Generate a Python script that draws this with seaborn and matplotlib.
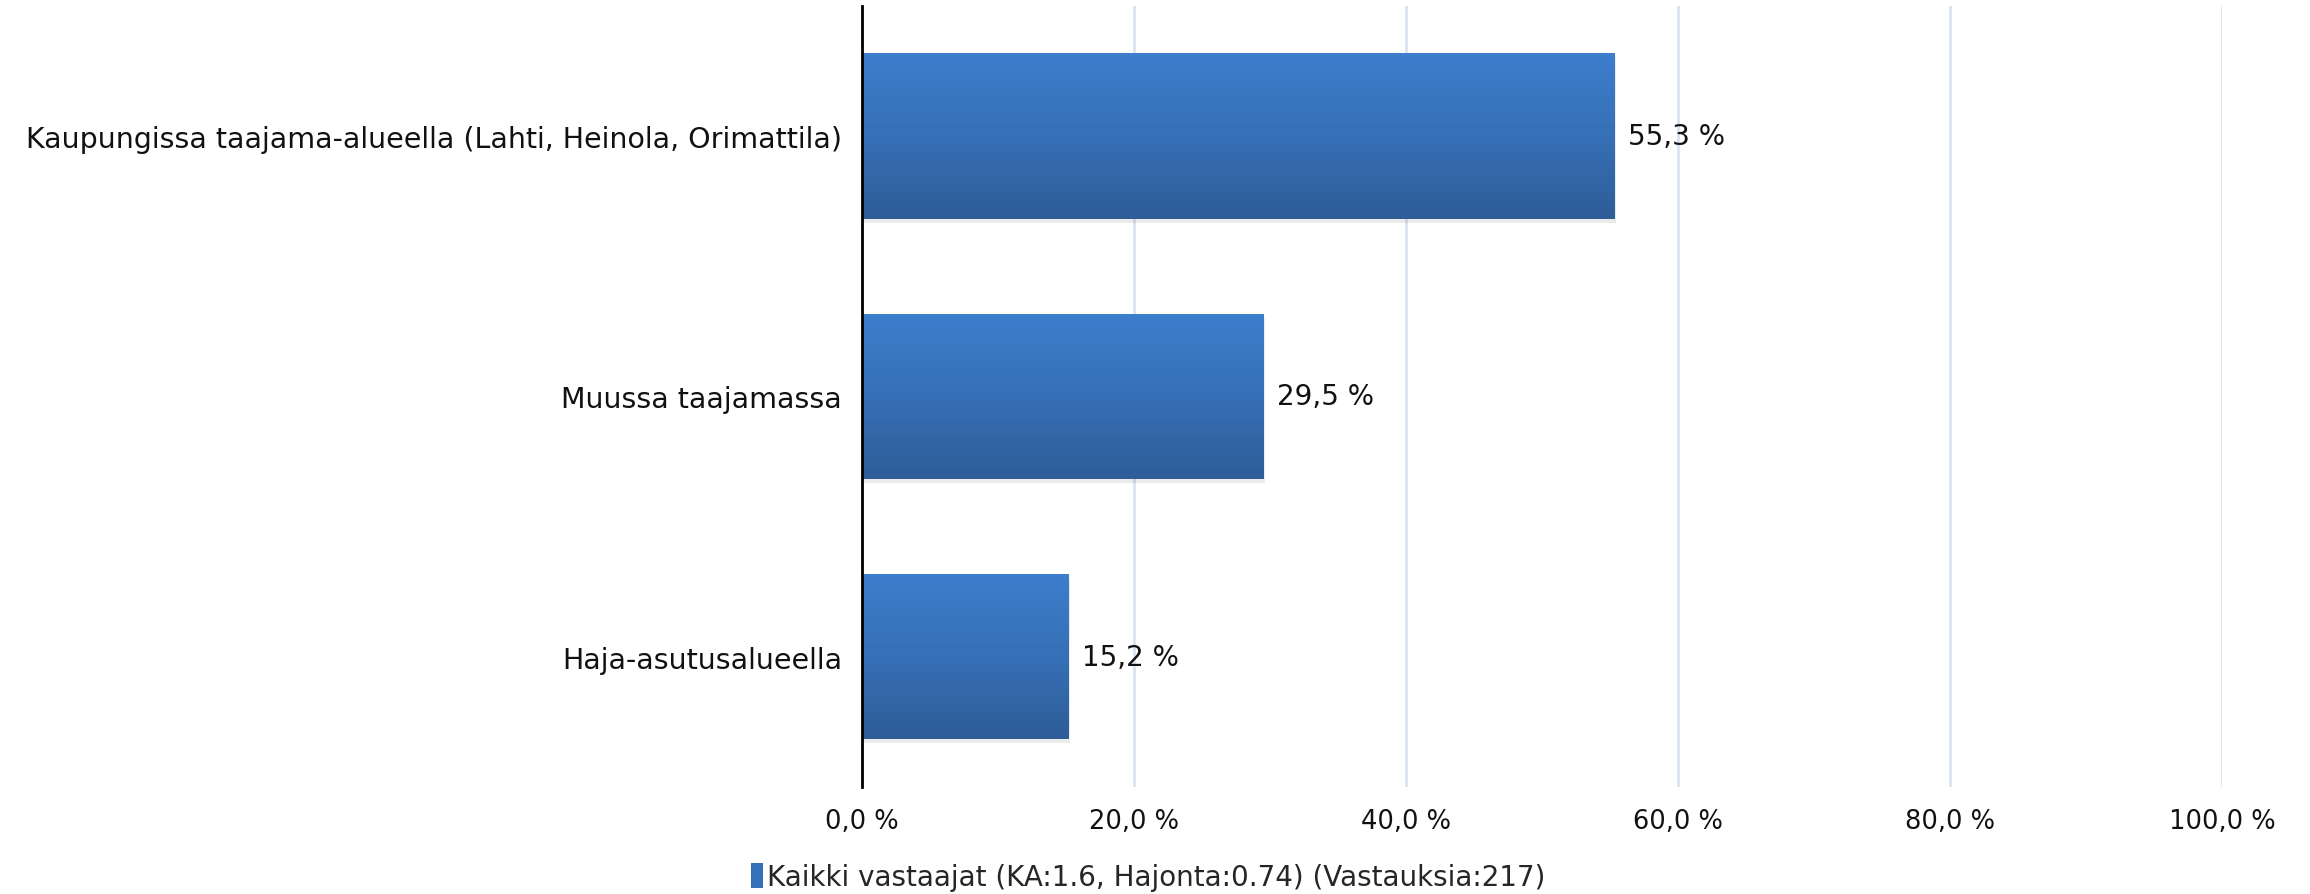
import matplotlib
matplotlib.use("Agg")
import matplotlib.pyplot as plt
import matplotlib.patches as mpatches
import numpy as np
import pandas as pd
import seaborn as sns
from matplotlib.colors import LinearSegmentedColormap

# data
categories = [
    "Kaupungissa taajama-alueella (Lahti, Heinola, Orimattila)",
    "Muussa taajamassa",
    "Haja-asutusalueella",
]
values = [55.3, 29.5, 15.2]
x_ticks = [0, 20, 40, 60, 80, 100]
series_name = "Kaikki vastaajat (KA:1.6, Hajonta:0.74) (Vastauksia:217)"

df = pd.DataFrame({"category": categories, "value": values})

sns.set_theme(style="white")
plt.rcParams["font.family"] = ["DejaVu Sans"]

fig = plt.figure(figsize=(23.1, 8.95), dpi=100)
ax = fig.add_axes([0.373, 0.1196, 0.589, 0.8726])

sns.barplot(data=df, x="value", y="category", orient="h", color="#3A75C0",
            width=0.635, ax=ax, zorder=3)

# gradient fill on the bars
cmap = LinearSegmentedColormap.from_list("bar", ["#3D7ECD", "#3670B6", "#2E5D98"])
grad = np.linspace(0, 1, 256).reshape(-1, 1)
for p in ax.patches:
    x0, y0 = p.get_x(), p.get_y()
    w, h = p.get_width(), p.get_height()
    # soft shadow
    sh = mpatches.Rectangle((x0 + 0.15, y0 + 0.015), w, h, facecolor="#000000",
                            alpha=0.08, edgecolor="none", zorder=2)
    ax.add_patch(sh)
    im = ax.imshow(grad, extent=[x0, x0 + w, y0 + h, y0], aspect="auto",
                   cmap=cmap, zorder=4, interpolation="bicubic")
    im.set_clip_path(p)
    p.set_edgecolor("none")

for p, v in zip(ax.patches, values):
    ax.text(p.get_x() + p.get_width() + 1.0, p.get_y() + p.get_height() / 2,
            f"{v:.1f} %".replace(".", ","), va="center", ha="left",
            fontsize=20, color="#111111")

ax.set_xlim(0, 100)
ax.set_ylim(2.5, -0.5)
ax.set_xticks(x_ticks)
ax.set_xticklabels([f"{t:.1f} %".replace(".", ",") for t in x_ticks])
ax.tick_params(axis="x", labelsize=18.5, length=0, pad=15, colors="#111111")
ax.tick_params(axis="y", labelsize=20.5, length=0, pad=14, colors="#111111")
ax.set_xlabel("")
ax.set_ylabel("")

ax.grid(axis="x", color="#D9E3F0", linewidth=2, zorder=0)
ax.set_axisbelow(True)
for s in ["top", "right", "bottom"]:
    ax.spines[s].set_visible(False)
ax.spines["left"].set_color("#000000")
ax.spines["left"].set_linewidth(2)
ax.spines["left"].set_zorder(5)

handle = mpatches.Patch(facecolor="#3670B6", edgecolor="none", label=series_name)
fig.legend(handles=[handle], loc="lower center", bbox_to_anchor=(0.497, -0.025),
           frameon=False, fontsize=20, handlelength=0.45, handleheight=1.0,
           handletextpad=0.15)

fig.savefig("out.png", dpi=100)
